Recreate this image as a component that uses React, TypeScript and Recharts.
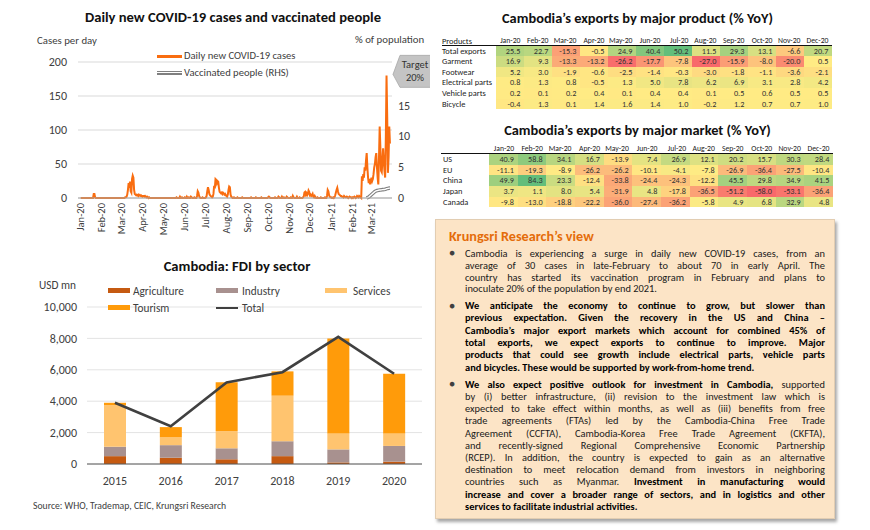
import React from 'react';
import { ComposedChart, Line, Bar, XAxis, YAxis, CartesianGrid, ReferenceDot } from 'recharts';

const FONT = "Carlito, Calibri, Lato, 'Liberation Sans', sans-serif";

// ---------------- COVID chart data ----------------
const monthLabels = ['Jan-20', 'Feb-20', 'Mar-20', 'Apr-20', 'May-20', 'Jun-20', 'Jul-20', 'Aug-20', 'Sep-20', 'Oct-20', 'Nov-20', 'Dec-20', 'Jan-21', 'Feb-21', 'Mar-21'];
const monthStartDays = [0, 31, 60, 91, 121, 152, 182, 213, 244, 274, 305, 335, 366, 397, 425];

const casesJan20 = [0,0,0,0,0,0,0,0,0,0, 0,0,0,0,0,0,0,0,0,6, 6,1,0,0,0,0,0,0,0,0, 0];
const casesFeb20 = [0,0,0,0,0,0,0,0,0,0, 0,0,0,0,0,0,0,0,0,0, 0,0,0,0,0,0,0,0,0];
const casesMar20 = [0,0,0,0,0,1,1, 2,5,12,22,15,24,10, 8,28,33,30,12,6,5, 4,5,4,3,5,4,3, 4,3,2];
const casesApr20 = [3,3,2,3,2,1,2,1,0,1, 0,0,0,0,0,0,0,0,0,0, 0,0,0,0,0,0,0,0,0,0];
const casesMay20 = [0,0,0,0,0,0,0,0,0,0, 0,0,0,0,0,0,0,0,0,1, 0,0,0,0,2,0,0,1,0,0, 0];
const casesJun20 = [1,0,0,2,0,0,1,0,0,2, 1,0,0,0,1,0,0,0,3,10, 8,3,1,0,0,0,1,0,0,0];
const casesJul20 = [0,1,3,10,16,12,6,4,3,2, 1,2,6,18,14,28,27,22,25,24, 15,9,8,7,8,6,8,7,5,6, 4];
const casesAug20 = [3,2,5,12,17,16,5,2,1,0, 0,1,0,0,0,0,1,0,0,0, 0,0,0,1,0,0,0,0,0,0, 0];
const casesSep20 = [0,0,0,0,0,1,0,0,0,0, 0,0,1,0,0,0,0,0,0,0, 1,0,0,0,0,0,0,0,0,0];
const casesOct20 = [1,2,1,0,0,0,0,0,0,0, 1,0,0,0,0,2,1,0,0,0, 2,0,0,1,0,0,0,2,1,0, 0];
const casesNov20 = [0,0,1,0,0,3,1,0,0,0, 0,2,0,0,0,1,0,0,0,0, 1,2,8,9,5,7,4,6,11,9];
const casesDec20 = [4,5,3,4,6,2,1,3,1,0, 0,1,0,0,0,0,1,0,0,0, 0,0,1,0,0,3,12,10,4,2, 1];
const casesJan21 = [1,0,0,1,0,1,4,8,12,15, 10,6,5,4,3,3,2,2,1,3, 2,1,1,2,1,0,1,2,1,1, 0];
const casesFeb21 = [1,0,1,2,1,0,1,3,2,1, 3,2,1,0,32,25,35,30,45,40, 55,66,45,30,22,28,20,25];
const casesMar21 = [30,25,28,35,45,50,60,66,45,30, 20,60,105,75,40,38,55,73,55,40, 30,90,180,120,37,60,105,80];

const vaccStartDay = 418;
const vaccinatedPct = [0,0.05,0.1,0.15,0.25,0.35,0.45,0.55,0.65,0.75, 0.85,0.95,1.05,1.1,1.15,1.2,1.22,1.25,1.27,1.3, 1.3,1.32,1.33,1.35,1.35,1.37,1.38,1.4,1.45,1.5, 1.52,1.55,1.57,1.6,1.6];

const allCases = [
  ...casesJan20, ...casesFeb20, ...casesMar20, ...casesApr20, ...casesMay20, ...casesJun20,
  ...casesJul20, ...casesAug20, ...casesSep20, ...casesOct20, ...casesNov20, ...casesDec20,
  ...casesJan21, ...casesFeb21, ...casesMar21,
];
const covidData = allCases.map((c, i) => {
  const v = i >= vaccStartDay ? vaccinatedPct[i - vaccStartDay] : undefined;
  return { day: i, cases: c, vac: v === undefined ? null : v, vacIn: v === undefined ? null : v };
});

// ---------------- FDI data ----------------
const fdiYears = ['2015', '2016', '2017', '2018', '2019', '2020'];
const fdiAgriculture = [500, 400, 300, 500, 100, 150];
const fdiIndustry = [600, 800, 700, 950, 830, 1000];
const fdiServices = [2650, 500, 1100, 2900, 1020, 800];
const fdiTourism = [150, 650, 3100, 1550, 6050, 3800];
const fdiTotal = [3900, 2400, 5200, 5850, 8100, 5750];
const fdiData = fdiYears.map((y, i) => ({
  year: y, agri: fdiAgriculture[i], ind: fdiIndustry[i], serv: fdiServices[i], tour: fdiTourism[i], total: fdiTotal[i],
}));

// ---------------- Tables ----------------
const tableMonths = ['Jan-20', 'Feb-20', 'Mar-20', 'Apr-20', 'May-20', 'Jun-20', 'Jul-20', 'Aug-20', 'Sep-20', 'Oct-20', 'Nov-20', 'Dec-20'];
const productLabels = ['Total exports', 'Garment', 'Footwear', 'Electrical parts', 'Vehicle parts', 'Bicycle'];
const productTotal = [25.5, 22.7, -15.3, -0.5, 24.9, 40.4, 50.2, 11.5, 29.3, 13.1, -6.6, 20.7];
const productGarment = [16.9, 9.3, -13.3, -13.2, -26.2, -17.7, -7.8, -27.0, -15.9, -8.0, -20.0, 0.5];
const productFootwear = [5.2, 3.0, -1.9, -0.6, -2.5, -1.4, -0.3, -3.0, -1.8, -1.1, -3.6, -2.1];
const productElectrical = [0.8, 1.3, 0.8, -0.5, 1.3, 5.0, 7.8, 6.2, 6.9, 3.1, 2.8, 4.2];
const productVehicle = [0.2, 0.1, 0.2, 0.4, 0.1, 0.4, 0.4, 0.1, 0.5, 0.6, 0.5, 0.5];
const productBicycle = [-0.4, 1.3, 0.1, 1.4, 1.6, 1.4, 1.0, -0.2, 1.2, 0.7, 0.7, 1.0];
const productRows = [productTotal, productGarment, productFootwear, productElectrical, productVehicle, productBicycle];

const marketLabels = ['US', 'EU', 'China', 'Japan', 'Canada'];
const marketUS = [40.9, 58.8, 34.1, 16.7, -13.9, 7.4, 26.9, 12.1, 20.2, 15.7, 30.3, 28.4];
const marketEU = [-11.1, -19.3, -8.9, -26.2, -26.2, -10.1, -4.1, -7.8, -26.9, -36.4, -27.5, -10.4];
const marketChina = [49.9, 84.3, 23.3, -12.4, -33.8, -24.4, -24.3, -12.2, 45.5, 29.8, 34.9, 41.5];
const marketJapan = [3.7, 1.1, 8.0, 5.4, -31.9, 4.8, -17.8, -36.5, -51.2, -58.0, -53.1, -36.4];
const marketCanada = [-9.8, -13.0, -18.8, -22.2, -36.0, -27.4, -36.2, -5.8, 4.9, 6.8, 32.9, 4.8];
const marketRows = [marketUS, marketEU, marketChina, marketJapan, marketCanada];

// ---------------- helpers ----------------
const RED = [248, 105, 107];
const YEL = [255, 235, 132];
const GRN = [99, 190, 123];
function mix(a: number[], b: number[], t: number) {
  const c = a.map((v, i) => Math.round(v + (b[i] - v) * t));
  return `rgb(${c[0]},${c[1]},${c[2]})`;
}
function makeScale(rows: number[][]) {
  const all = rows.flat().slice().sort((a, b) => a - b);
  const min = all[0];
  const max = all[all.length - 1];
  const n = all.length;
  const mid = n % 2 ? all[(n - 1) / 2] : (all[n / 2 - 1] + all[n / 2]) / 2;
  return (v: number) => {
    if (v >= mid) return mix(YEL, GRN, max === mid ? 0 : (v - mid) / (max - mid));
    return mix(YEL, RED, (mid - v) / (mid - min));
  };
}

type TableProps = {
  title: string; titleY: number; headerY: number; lineY: number; lineX1: number; lineX2: number;
  firstHeader?: string; labelX: number; cellX: number; colW: number; rowTop: number; rowH: number;
  labels: string[]; rows: number[][];
};
function HeatTable(p: TableProps) {
  const color = makeScale(p.rows);
  const fs = 8.2;
  return (
    <>
      <div style={{ position: 'absolute', left: 440, width: 395, top: p.titleY - 10, height: 20, lineHeight: '20px', textAlign: 'center', fontWeight: 700, fontSize: 14.4, color: '#111' }}>{p.title}</div>
      {p.firstHeader && (
        <div style={{ position: 'absolute', left: p.labelX, top: p.headerY - 5, height: 10, lineHeight: '10px', fontSize: 8.4, color: '#222' }}>{p.firstHeader}</div>
      )}
      {tableMonths.map((m, j) => (
        <div key={m} style={{ position: 'absolute', left: p.cellX + j * p.colW - 4, width: p.colW + 0.5, top: p.headerY - 5, height: 10, lineHeight: '10px', textAlign: 'right', fontSize: 7.7, color: '#222', whiteSpace: 'nowrap' }}>{m}</div>
      ))}
      <div style={{ position: 'absolute', left: p.lineX1, width: p.lineX2 - p.lineX1, top: p.lineY, height: 1.2, background: '#111' }} />
      {p.rows.map((r, i) => (
        <React.Fragment key={i}>
          <div style={{ position: 'absolute', left: p.labelX, top: p.rowTop + i * p.rowH, height: p.rowH, lineHeight: `${p.rowH}px`, fontSize: 8.4, color: '#222', whiteSpace: 'nowrap' }}>{p.labels[i]}</div>
          {r.map((v, j) => (
            <div key={j} style={{ position: 'absolute', left: p.cellX + j * p.colW, width: p.colW + 0.3, top: p.rowTop + i * p.rowH, height: p.rowH + 0.3, lineHeight: `${p.rowH}px`, background: color(v), textAlign: 'right', boxSizing: 'border-box', paddingRight: 4, fontSize: fs, color: '#333' }}>{v.toFixed(1)}</div>
          ))}
        </React.Fragment>
      ))}
    </>
  );
}

const MonthTick = (props: any) => {
  const { x, y, payload } = props;
  const idx = monthStartDays.indexOf(payload.value);
  return (
    <text x={x} y={y} transform={`rotate(-90 ${x} ${y})`} textAnchor="end" dominantBaseline="central" fontSize={10.5} fill="#404040" fontFamily={FONT}>
      {monthLabels[idx]}
    </text>
  );
};

const TargetShape = (props: any) => {
  const { cx, cy } = props;
  const x0 = cx + 1;
  const pts = `${x0},${cy} ${x0 + 7},${cy - 19} ${x0 + 40},${cy - 19} ${x0 + 40},${cy + 13} ${x0 + 7},${cy + 13}`;
  return (
    <g>
      <polygon points={pts} fill="#c4c4c4" stroke="#a8a8a8" strokeWidth={0.8} />
      <text x={x0 + 22} y={cy - 10} textAnchor="middle" dominantBaseline="central" fontSize={10.5} fill="#333" fontFamily={FONT}>Target</text>
      <text x={x0 + 22} y={cy + 3} textAnchor="middle" dominantBaseline="central" fontSize={10.5} fill="#333" fontFamily={FONT}>20%</text>
    </g>
  );
};

function abs(left: number, top: number, extra: React.CSSProperties = {}): React.CSSProperties {
  return { position: 'absolute', left, top, whiteSpace: 'nowrap', ...extra };
}

const bodyFs = 10.4;
function JLine({ top, children, last }: { top: number; children: React.ReactNode; last?: boolean }) {
  return (
    <div style={{ position: 'absolute', left: 465, width: 360, top, height: 12, lineHeight: '12px', fontSize: bodyFs, whiteSpace: 'nowrap', textAlign: last ? 'left' : 'justify', textAlignLast: last ? 'left' : 'justify', color: '#1a1a1a' } as React.CSSProperties}>
      {children}
    </div>
  );
}

const bullet1 = [
  'Cambodia is experiencing a surge in daily new COVID-19 cases, from an',
  'average of 30 cases in late-February to about 70 in early April. The',
  'country has started its vaccination program in February and plans to',
  'inoculate 20% of the population by end 2021.',
];
const bullet2 = [
  'We anticipate the economy to continue to grow, but slower than',
  'previous expectation. Given the recovery in the US and China \u2013',
  'Cambodia\u2019s major export markets which account for combined 45% of',
  'total exports, we expect exports to continue to improve. Major',
  'products that could see growth include electrical parts, vehicle parts',
  'and bicycles. These would be supported by work-from-home trend.',
];
const bullet3Middle = [
  'by (i) better infrastructure, (ii) revision to the investment law which is',
  'expected to take effect within months, as well as (iii) benefits from free',
  'trade agreements (FTAs) led by the Cambodia-China Free Trade',
  'Agreement (CCFTA), Cambodia-Korea Free Trade Agreement (CKFTA),',
  'and recently-signed Regional Comprehensive Economic Partnership',
  '(RCEP). In addition, the country is expected to gain as an alternative',
  'destination to meet relocation demand from investors in neighboring',
];

export default function App() {
  const lab: React.CSSProperties = { fontSize: 10.8, color: '#404040' };
  return (
    <div style={{ position: 'absolute', left: 0, top: 0, width: 870, height: 530, background: '#fff', overflow: 'hidden', fontFamily: FONT }}>
      {/* ---------- COVID chart ---------- */}
      <div style={abs(0, 7, { width: 466, textAlign: 'center', fontWeight: 700, fontSize: 14.6, color: '#111', lineHeight: '20px' })}>Daily new COVID-19 cases and vaccinated people</div>
      <div style={abs(37, 34, { ...lab, lineHeight: '14px' })}>Cases per day</div>
      <div style={abs(355, 33, { ...lab, lineHeight: '14px' })}>% of population</div>
      <div style={{ position: 'absolute', left: 0, top: 0 }}>
        <ComposedChart width={430} height={250} data={covidData} margin={{ top: 62, right: 8, bottom: 2, left: 0 }}>
          <CartesianGrid yAxisId="left" vertical={false} stroke="#d9d9d9" />
          <XAxis dataKey="day" type="number" domain={[-4, 455]} ticks={monthStartDays} interval={0} tick={<MonthTick />} tickLine={false} tickSize={0} tickMargin={5} height={50} stroke="#a6a6a6" />
          <YAxis yAxisId="left" domain={[0, 200]} ticks={[0, 50, 100, 150, 200]} width={78} axisLine={false} tickLine={false} tickSize={0} tickMargin={11} tick={{ fontSize: 12, fill: '#404040', fontFamily: FONT }} />
          <YAxis yAxisId="right" orientation="right" domain={[0, 22]} ticks={[0, 5, 10, 15]} width={30} axisLine={false} tickLine={false} tickSize={0} tickMargin={6} tick={{ fontSize: 12, fill: '#404040', fontFamily: FONT, textAnchor: 'start' }} />
          <Line yAxisId="left" dataKey="cases" type="linear" stroke="#f96d10" strokeWidth={2} dot={false} isAnimationActive={false} />
          <Line yAxisId="right" dataKey="vac" type="linear" stroke="#808080" strokeWidth={3.6} dot={false} isAnimationActive={false} />
          <Line yAxisId="right" dataKey="vacIn" type="linear" stroke="#ffffff" strokeWidth={1.4} dot={false} isAnimationActive={false} />
          <ReferenceDot yAxisId="right" x={455} y={20} r={0} ifOverflow="visible" shape={<TargetShape />} />
        </ComposedChart>
      </div>
      {/* covid legend */}
      <div style={abs(157, 54.5, { width: 25, height: 3, background: '#f96d10' })} />
      <div style={abs(184, 49, { ...lab, fontSize: 10.6, lineHeight: '14px' })}>Daily new COVID-19 cases</div>
      <div style={abs(157, 70.5, { width: 25, height: 4, background: '#808080' })} />
      <div style={abs(157, 71.8, { width: 25, height: 1.4, background: '#fff' })} />
      <div style={abs(184, 66, { ...lab, fontSize: 10.6, lineHeight: '14px' })}>Vaccinated people (RHS)</div>

      {/* ---------- FDI chart ---------- */}
      <div style={abs(0, 256, { width: 474, textAlign: 'center', fontWeight: 700, fontSize: 14.6, color: '#111', lineHeight: '20px' })}>Cambodia: FDI by sector</div>
      <div style={abs(39, 278, { ...lab, fontSize: 11.3, lineHeight: '14px' })}>USD mn</div>
      <div style={{ position: 'absolute', left: 0, top: 250 }}>
        <ComposedChart width={430} height={250} data={fdiData} margin={{ top: 57, right: 8, bottom: 6, left: 0 }}>
          <CartesianGrid vertical={false} stroke="#e3e3e3" />
          <XAxis dataKey="year" height={30} tickLine={false} tickSize={0} tickMargin={12} stroke="#595959" tick={{ fontSize: 12, fill: '#404040', fontFamily: FONT }} />
          <YAxis domain={[0, 10000]} ticks={[0, 2000, 4000, 6000, 8000, 10000]} width={87} axisLine={false} tickLine={false} tickSize={0} tickMargin={10} tickFormatter={(v: number) => v.toLocaleString('en-US')} tick={{ fontSize: 12, fill: '#404040', fontFamily: FONT }} />
          <Bar dataKey="agri" stackId="a" fill="#c55a11" barSize={22} isAnimationActive={false} />
          <Bar dataKey="ind" stackId="a" fill="#a8918f" barSize={22} isAnimationActive={false} />
          <Bar dataKey="serv" stackId="a" fill="#ffc46f" barSize={22} isAnimationActive={false} />
          <Bar dataKey="tour" stackId="a" fill="#ff9b0a" barSize={22} isAnimationActive={false} />
          <Line dataKey="total" type="linear" stroke="#404040" strokeWidth={2.6} dot={false} isAnimationActive={false} />
        </ComposedChart>
      </div>
      {/* FDI legend */}
      <div style={abs(108, 288.3, { width: 22, height: 5, background: '#c55a11' })} />
      <div style={abs(133, 283.5, { ...lab, fontSize: 11.3, lineHeight: '14px' })}>Agriculture</div>
      <div style={abs(216, 288.3, { width: 22, height: 5, background: '#a8918f' })} />
      <div style={abs(242, 283.5, { ...lab, fontSize: 11.3, lineHeight: '14px' })}>Industry</div>
      <div style={abs(325, 288.3, { width: 22, height: 5, background: '#ffc46f' })} />
      <div style={abs(353, 283.5, { ...lab, fontSize: 11.3, lineHeight: '14px' })}>Services</div>
      <div style={abs(108, 305.3, { width: 22, height: 5, background: '#ff9b0a' })} />
      <div style={abs(133, 300.5, { ...lab, fontSize: 11.3, lineHeight: '14px' })}>Tourism</div>
      <div style={abs(216, 306.5, { width: 22, height: 2.5, background: '#404040' })} />
      <div style={abs(242, 300.5, { ...lab, fontSize: 11.3, lineHeight: '14px' })}>Total</div>

      <div style={abs(33, 500, { fontSize: 9.7, color: '#404040', lineHeight: '12px' })}>Source: WHO, Trademap, CEIC, Krungsri Research</div>

      {/* ---------- Tables ---------- */}
      <HeatTable title={'Cambodia\u2019s exports by major product (% YoY)'} titleY={18} headerY={40.7} lineY={45} lineX1={442} lineX2={832}
        firstHeader="Products" labelX={442} cellX={496} colW={28} rowTop={45.6} rowH={10.6} labels={productLabels} rows={productRows} />
      <HeatTable title={'Cambodia\u2019s exports by major market (% YoY)'} titleY={130} headerY={149} lineY={152.8} lineX1={441} lineX2={833}
        labelX={443} cellX={489} colW={28.67} rowTop={154.2} rowH={10.6} labels={marketLabels} rows={marketRows} />

      {/* ---------- Text box ---------- */}
      <div style={{ position: 'absolute', left: 435, top: 219, width: 400, height: 300, background: '#fce4c6', border: '1px solid #e2cdb2', boxShadow: '2px 3px 3px rgba(0,0,0,0.35)', boxSizing: 'border-box' }} />
      <div style={abs(449, 227, { fontSize: 14.2, fontWeight: 700, color: '#e46c0a', lineHeight: '18px' })}>Krungsri Research{'\u2019'}s view</div>

      <div style={abs(449, 247, { fontSize: 10, color: '#404040', lineHeight: '12px' })}>{'\u25CF'}</div>
      {bullet1.map((t, i) => <JLine key={'a' + i} top={248 + i * 11.8} last={i === bullet1.length - 1}>{t}</JLine>)}

      <div style={abs(449, 299.5, { fontSize: 10, color: '#404040', lineHeight: '12px' })}>{'\u25CF'}</div>
      {bullet2.map((t, i) => (
        <JLine key={'b' + i} top={300 + i * 12.3} last={i === bullet2.length - 1}><b style={{ color: '#000' }}>{t}</b></JLine>
      ))}

      <div style={abs(449, 378, { fontSize: 10, color: '#404040', lineHeight: '12px' })}>{'\u25CF'}</div>
      <JLine top={378.6}><b style={{ color: '#000' }}>We also expect positive outlook for investment in Cambodia,</b> supported</JLine>
      {bullet3Middle.map((t, i) => <JLine key={'c' + i} top={378.6 + (i + 1) * 12.23}>{t}</JLine>)}
      <JLine top={378.6 + 8 * 12.23}>countries such as Myanmar. <b style={{ color: '#000' }}>Investment in manufacturing would</b></JLine>
      <JLine top={378.6 + 9 * 12.23}><b style={{ color: '#000' }}>increase and cover a broader range of sectors, and in logistics and other</b></JLine>
      <JLine top={378.6 + 10 * 12.23} last><b style={{ color: '#000' }}>services to facilitate industrial activities.</b></JLine>
    </div>
  );
}
